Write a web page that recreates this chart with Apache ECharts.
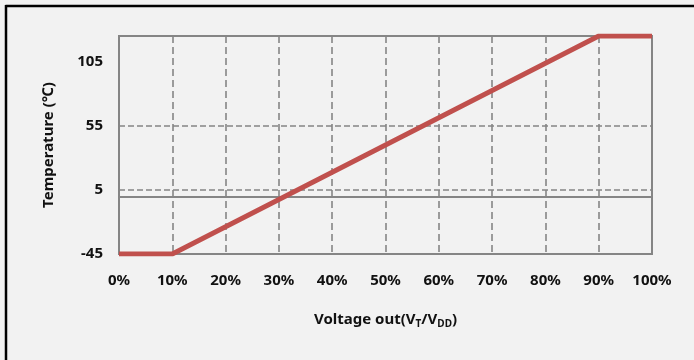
<!DOCTYPE html>
<html>
<head>
<meta charset="utf-8">
<script src="https://cdn.jsdelivr.net/npm/echarts@6/dist/echarts.min.js"></script>
<style>
  html, body { margin: 0; padding: 0; background: #f2f2f2; }
  #chart { width: 694px; height: 360px; }
</style>
</head>
<body>
<div id="chart"></div>
<script>
// Output ratio (percent of VDD) and the matching temperature
const voltagePct = [0, 10, 90, 100];
const temperature = [-45, -45, 125, 125];
// Labelled temperature ticks
const tempTicks = [-45, 5, 55, 105];

const gridGray = '#858585';
const font = '"Noto Sans", "Open Sans", sans-serif';

const chart = echarts.init(document.getElementById('chart'), null, { renderer: 'canvas' });

chart.setOption({
  backgroundColor: '#f2f2f2',
  animation: false,
  grid: {
    left: 119, right: 42, top: 36, bottom: 106,
    show: true,
    backgroundColor: 'transparent',
    borderColor: gridGray,
    borderWidth: 2
  },
  graphic: [
    { type: 'line', shape: { x1: 5.5, y1: 6, x2: 694, y2: 6 }, style: { stroke: '#000', lineWidth: 2.5 }, z: 10 },
    { type: 'line', shape: { x1: 6, y1: 5, x2: 6, y2: 360 }, style: { stroke: '#000', lineWidth: 2.5 }, z: 10 }
  ],
  xAxis: {
    type: 'value',
    min: 0, max: 100, interval: 10,
    axisLine: { show: true, lineStyle: { color: gridGray, width: 2 } },
    axisTick: { show: false },
    axisLabel: {
      formatter: '{value}%', margin: 19,
      color: '#111', fontFamily: font, fontWeight: 'bold', fontSize: 15
    },
    splitLine: {
      show: true, showMinLine: false, showMaxLine: false,
      lineStyle: { color: gridGray, width: 1.6, type: [7, 4] }
    },
    name: 'Voltage out(V{sub|T}/V{sub|DD})',
    nameLocation: 'middle',
    nameGap: 56,
    nameTextStyle: {
      color: '#111', fontFamily: font, fontWeight: 'bold', fontSize: 15,
      rich: {
        sub: { fontFamily: font, fontWeight: 'bold', fontSize: 10, color: '#111', padding: [9, 0, 0, 0] }
      }
    }
  },
  yAxis: {
    type: 'value',
    min: -45, max: 125,
    axisLine: { show: true, onZero: false, lineStyle: { color: gridGray, width: 2 } },
    axisTick: { show: false, customValues: tempTicks },
    axisLabel: {
      customValues: tempTicks, margin: 16,
      color: '#111', fontFamily: font, fontWeight: 'bold', fontSize: 15
    },
    splitLine: {
      show: true, showMinLine: false, showMaxLine: false,
      lineStyle: { color: gridGray, width: 1.6, type: [6, 3] }
    },
    name: 'Temperature (℃)',
    nameLocation: 'middle',
    nameGap: 63,
    nameTextStyle: { color: '#111', fontFamily: font, fontWeight: 'bold', fontSize: 15 }
  },
  series: [
    {
      // zero reference line under the curve
      type: 'line',
      data: [],
      z: 1,
      silent: true,
      markLine: {
        silent: true,
        symbol: 'none',
        label: { show: false },
        lineStyle: { color: gridGray, width: 2, type: 'solid' },
        data: [{ yAxis: 0 }]
      }
    },
    {
      type: 'line',
      z: 5,
      data: voltagePct.map((v, i) => [v, temperature[i]]),
      showSymbol: false,
      lineStyle: { color: '#c0504d', width: 5, cap: 'butt', join: 'miter' }
    }
  ]
});
</script>
</body>
</html>
